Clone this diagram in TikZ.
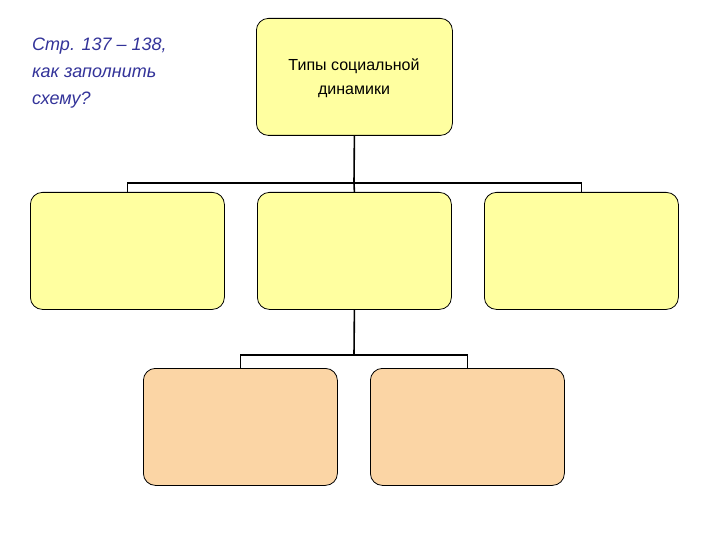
\documentclass[tikz,border=0pt]{standalone}
\usepackage{fontspec}
\setmainfont{Liberation Sans}
\begin{document}
\begin{tikzpicture}[x=1pt,y=-1pt,
  ybox/.style={draw=black,line width=0.8pt,rounded corners=12pt,fill=yellowfill,minimum width=194pt,minimum height=117pt,anchor=north west},
  obox/.style={ybox,fill=orangefill},
  conn/.style={line width=1.6pt}]
\definecolor{yellowfill}{RGB}{255,255,160}
\definecolor{orangefill}{RGB}{251,213,165}
\definecolor{bluetext}{RGB}{51,51,153}
\useasboundingbox (0,0) rectangle (720,540);
\node[ybox,minimum height=117pt,minimum width=196pt] (top) at (256,18) {};
\node[align=center,font=\fontsize{16}{24}\selectfont] (toptext) at (354,78) {Типы социальной\\динамики};
\node[ybox] (m1) at (30,192) {};
\node[ybox] (m2) at (257,192) {};
\node[ybox] (m3) at (484,192) {};
\node[obox] (b1) at (143,368) {};
\node[obox] (b2) at (370,368) {};
\node[anchor=north west,align=left,text=bluetext,font=\itshape\fontsize{18}{27}\selectfont,inner sep=0pt] (note) at (32,38) {Стр. 137 – 138,\\как заполнить\\схему?};
\coordinate (h1) at (354,183);
\draw[conn] (top.south) -- (h1);
\draw[conn] (m1.north) |- (h1) -| (m3.north);
\draw[conn] (h1) -- (m2.north);
\coordinate (h2) at (354,355);
\draw[conn] (m2.south) -- (h2);
\draw[conn] (b1.north) |- (h2) -| (b2.north);
\end{tikzpicture}
\end{document}
